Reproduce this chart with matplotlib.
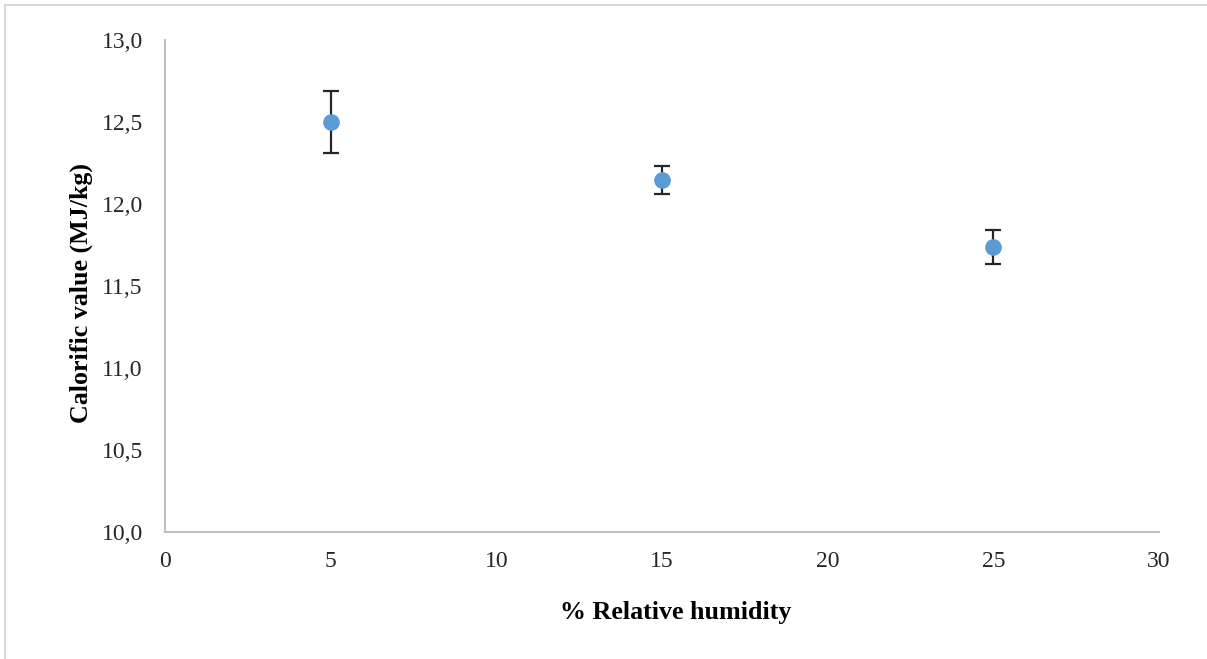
import matplotlib.pyplot as plt
from matplotlib.lines import Line2D
from matplotlib.ticker import FuncFormatter, MultipleLocator

# calorific value of samples stored at different relative humidity
humidity = [5, 15, 25]
calorific = [12.50, 12.15, 11.74]
calorific_err = [0.19, 0.085, 0.105]

plt.rcParams['font.family'] = ['Liberation Serif', 'DejaVu Serif']

fig = plt.figure(figsize=(12.07, 6.59), dpi=100)
ax = fig.add_axes([0.1367, 0.192, 0.8235, 0.747])

ax.errorbar(humidity, calorific, yerr=calorific_err, fmt='o', color='#5B9BD5',
            markersize=11, ecolor='#262626', elinewidth=1.6, capsize=6,
            capthick=1.6, zorder=3)

ax.set_xlim(0, 30)
ax.set_ylim(10, 13)
ax.xaxis.set_major_locator(MultipleLocator(5))
ax.yaxis.set_major_locator(MultipleLocator(0.5))
ax.yaxis.set_major_formatter(FuncFormatter(lambda v, p: f"{v:.1f}".replace('.', ',')))

for s in ['top', 'right']:
    ax.spines[s].set_visible(False)
for s in ['left', 'bottom']:
    ax.spines[s].set_color('#bfbfbf')
    ax.spines[s].set_linewidth(1.5)

ax.tick_params(axis='both', length=0, labelsize=17, colors='#262626')
ax.tick_params(axis='y', pad=16)
ax.tick_params(axis='x', pad=13)

ax.set_xlabel('% Relative humidity', fontsize=18.7, fontweight='bold', labelpad=21)
ax.set_ylabel('Calorific value (MJ/kg)', fontsize=18.7, fontweight='bold', labelpad=6)
ax.xaxis.label.set_x(0.514)
ax.yaxis.label.set_y(0.486)

# light frame around the chart area
fig.add_artist(Line2D([5 / 1207, 5 / 1207], [0, 1 - 5 / 659], color='#d9d9d9', lw=1.5))
fig.add_artist(Line2D([5 / 1207, 1], [1 - 5 / 659, 1 - 5 / 659], color='#d9d9d9', lw=1.5))

fig.savefig('out.png', dpi=100)
